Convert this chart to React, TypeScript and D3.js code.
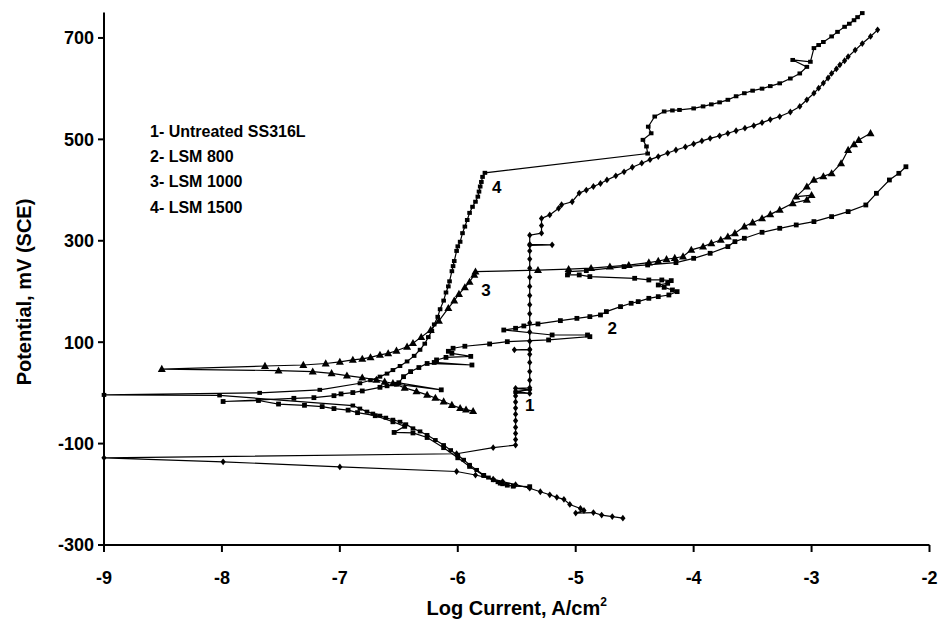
import React from 'react';
import * as d3 from 'd3';

type P = [number, number];

const xTicks = [-9, -8, -7, -6, -5, -4, -3, -2];
const yTicks = [-300, -100, 100, 300, 500, 700];
const legendLines = ['1- Untreated SS316L', '2- LSM 800', '3- LSM 1000', '4- LSM 1500'];

// [log current, potential mV]
const untreated: P[] = [
  [-4.60, -247], [-4.69, -244], [-4.78, -241], [-4.85, -236], [-5.00, -237], [-4.93, -232], [-4.96, -228],
  [-5.05, -220], [-5.10, -210], [-5.16, -206], [-5.22, -201], [-5.30, -195], [-5.39, -188], [-5.51, -181],
  [-5.62, -175], [-5.70, -170], [-5.85, -162], [-6.01, -155], [-7.00, -146], [-7.99, -136], [-9.00, -128],
  [-6.01, -120], [-5.70, -108], [-5.51, -103], [-5.51, -92], [-5.51, -80], [-5.51, -68], [-5.51, -55],
  [-5.51, -42], [-5.51, -30], [-5.51, -18], [-5.51, -6], [-5.51, 0], [-5.39, -1], [-5.51, 3], [-5.39, 6],
  [-5.51, 9], [-5.39, 10], [-5.39, 25], [-5.39, 42], [-5.39, 60], [-5.39, 76], [-5.39, 85], [-5.52, 85],
  [-5.39, 86], [-5.39, 102], [-5.39, 120], [-5.39, 138], [-5.39, 156], [-5.39, 174], [-5.39, 192],
  [-5.39, 210], [-5.39, 228], [-5.39, 246], [-5.39, 264], [-5.39, 280], [-5.39, 291], [-5.20, 292],
  [-5.39, 293], [-5.39, 311], [-5.29, 315], [-5.29, 330], [-5.29, 344], [-5.22, 351], [-5.145, 364],
  [-5.12, 371], [-5.03, 377], [-4.97, 394], [-4.91, 400], [-4.85, 407], [-4.79, 413], [-4.735, 420],
  [-4.66, 428], [-4.59, 436], [-4.52, 445], [-4.44, 453], [-4.37, 460], [-4.30, 466], [-4.22, 473],
  [-4.15, 479], [-4.07, 485], [-4.00, 491], [-3.93, 497], [-3.86, 502], [-3.78, 507], [-3.71, 512],
  [-3.64, 517], [-3.565, 522], [-3.49, 527], [-3.42, 533], [-3.35, 539], [-3.27, 545], [-3.18, 554],
  [-3.10, 565], [-3.04, 578], [-2.98, 591], [-2.94, 601], [-2.90, 611], [-2.86, 621], [-2.83, 630],
  [-2.79, 639], [-2.76, 647], [-2.72, 655], [-2.69, 663], [-2.63, 676], [-2.57, 689], [-2.50, 703],
  [-2.44, 716],
];

const lsm800: P[] = [
  [-5.39, -185], [-5.53, -184], [-5.58, -182], [-5.64, -178], [-5.78, -163], [-5.90, -145], [-6.00, -128],
  [-6.12, -108], [-6.26, -88], [-6.38, -79], [-6.54, -78], [-6.45, -66], [-6.55, -57], [-6.70, -45],
  [-6.85, -39], [-6.93, -34], [-7.05, -31], [-7.15, -27], [-7.30, -24.5], [-7.52, -22], [-7.69, -15],
  [-7.99, -17], [-7.39, -10.7], [-7.22, -9.4], [-7.05, -5.5], [-6.99, -2], [-6.89, 0.6], [-6.81, 3.8],
  [-6.66, 11], [-6.60, 14], [-6.52, 17], [-6.14, 6], [-6.50, 20], [-6.46, 32], [-6.40, 42], [-6.33, 50],
  [-6.26, 58], [-5.88, 55], [-6.20, 60], [-6.18, 65], [-6.10, 70], [-5.89, 72], [-6.05, 78], [-6.08, 82],
  [-6.04, 88], [-5.94, 92], [-5.73, 96.5], [-5.58, 101], [-5.23, 104.4], [-4.88, 110.9], [-4.90, 114.2],
  [-5.20, 114.2], [-5.61, 124], [-5.51, 127.4], [-5.44, 132], [-5.32, 136], [-5.13, 142.5], [-4.99, 147],
  [-4.88, 150.4], [-4.79, 153.7], [-4.74, 160.3], [-4.62, 170.1], [-4.53, 176.7], [-4.47, 180],
  [-4.38, 186.5], [-4.30, 189.8], [-4.21, 193.1], [-4.14, 199.7], [-4.18, 203], [-4.25, 208.2],
  [-4.30, 212.8], [-4.22, 216.1], [-4.19, 221.4], [-4.27, 222.7], [-4.38, 222.7], [-4.50, 226],
  [-4.88, 229.3], [-4.97, 232.6], [-5.07, 232.6], [-5.06, 239.1], [-4.91, 241.1], [-4.59, 249],
  [-4.39, 252.3], [-4.15, 256.9], [-4.00, 265.4], [-3.86, 275.3], [-3.71, 288.5], [-3.65, 298.3],
  [-3.57, 304.9], [-3.42, 316.7], [-3.27, 324.6], [-3.13, 331.2], [-2.98, 337.8], [-2.83, 347.6],
  [-2.69, 357.5], [-2.54, 370.6], [-2.45, 393.6], [-2.34, 419.9], [-2.26, 433], [-2.20, 446],
];

const lsm1000: P[] = [
  [-5.87, -36], [-5.93, -33], [-5.98, -30], [-6.05, -24], [-6.12, -17], [-6.19, -10], [-6.26, -4],
  [-6.35, 3], [-6.45, 10], [-6.55, 19], [-6.62, 22], [-6.69, 25.5], [-6.81, 30], [-6.94, 34],
  [-7.07, 38.6], [-7.23, 42], [-7.52, 44], [-8.51, 47], [-7.635, 53], [-7.31, 55], [-7.12, 58],
  [-7.00, 61], [-6.89, 65], [-6.81, 67], [-6.74, 70], [-6.66, 75], [-6.59, 78], [-6.52, 83], [-6.43, 91],
  [-6.38, 98], [-6.31, 110], [-6.23, 124], [-6.16, 142], [-6.08, 167], [-6.03, 182], [-5.99, 195],
  [-5.94, 208], [-5.90, 219], [-5.86, 233], [-5.85, 239], [-5.32, 242], [-5.06, 244], [-4.87, 246],
  [-4.71, 249], [-4.55, 252], [-4.38, 257], [-4.30, 260], [-4.23, 263.5], [-4.16, 266], [-4.09, 269],
  [-4.02, 282], [-3.92, 288.5], [-3.85, 295], [-3.77, 301.6], [-3.71, 308], [-3.65, 314.7], [-3.57, 328],
  [-3.50, 336], [-3.42, 344], [-3.35, 352], [-3.27, 361], [-3.16, 374], [-3.04, 380.5], [-3.00, 390],
  [-3.13, 387], [-3.04, 406.7], [-2.98, 420], [-2.90, 427], [-2.83, 433], [-2.75, 452.7], [-2.69, 479],
  [-2.64, 490], [-2.60, 498.7], [-2.50, 512],
];

const lsm1500: P[] = [
  [-5.62, -180], [-5.66, -176], [-5.70, -172], [-5.74, -167], [-5.78, -162], [-5.84, -152], [-5.90, -142],
  [-5.95, -132], [-6.00, -123], [-6.06, -113], [-6.12, -103], [-6.19, -93], [-6.26, -83], [-6.32, -76],
  [-6.38, -70], [-6.44, -62], [-6.49, -57], [-6.55, -53], [-6.61, -49], [-6.66, -45], [-6.72, -41],
  [-6.77, -37], [-6.83, -31], [-6.89, -25], [-8.02, -5], [-9.00, -4], [-7.68, 0], [-7.17, 6], [-6.83, 19],
  [-6.74, 25], [-6.66, 32], [-6.60, 38], [-6.55, 45], [-6.49, 53], [-6.43, 62], [-6.37, 73], [-6.32, 85],
  [-6.28, 97], [-6.25, 110], [-6.22, 122], [-6.20, 135], [-6.17, 150], [-6.15, 165], [-6.12, 182],
  [-6.10, 198], [-6.08, 210], [-6.07, 220], [-6.05, 240], [-6.04, 250], [-6.03, 260], [-6.01, 280],
  [-6.00, 289], [-5.98, 298], [-5.96, 315], [-5.94, 328], [-5.92, 341], [-5.90, 355], [-5.875, 367],
  [-5.85, 377], [-5.83, 387], [-5.82, 397], [-5.81, 407], [-5.80, 416], [-5.79, 426], [-5.77, 434],
  [-4.39, 472], [-4.40, 486], [-4.43, 499], [-4.36, 512], [-4.385, 525], [-4.33, 545], [-4.25, 555],
  [-4.18, 557], [-4.12, 558], [-4.00, 561], [-3.92, 565], [-3.85, 569], [-3.78, 573], [-3.71, 578],
  [-3.64, 585], [-3.57, 591], [-3.50, 596], [-3.42, 600], [-3.35, 605], [-3.27, 610.5], [-3.18, 620],
  [-3.10, 630], [-3.04, 643], [-3.16, 656.6], [-3.01, 653], [-2.98, 680], [-2.94, 686], [-2.90, 692],
  [-2.83, 703], [-2.78, 712], [-2.72, 722], [-2.68, 728], [-2.64, 735], [-2.61, 741], [-2.57, 749],
];

const curveLabels = [
  { text: '1', x: -5.39, y: -24 },
  { text: '2', x: -4.69, y: 128 },
  { text: '3', x: -5.76, y: 203 },
  { text: '4', x: -5.67, y: 407 },
];

const W = 938;
const H = 630;
const x = d3.scaleLinear().domain([-9, -2]).range([104, 929.5]);
const y = d3.scaleLinear().domain([-300, 750]).range([545, 12.6]);
const line = d3.line<P>().x(d => x(d[0])).y(d => y(d[1]));
const FONT = 'Liberation Sans, Arial, sans-serif';

type Marker = 'diamond' | 'square' | 'triangle' | 'dash';

function Mark({ kind, p }: { kind: Marker; p: P }) {
  const cx = x(p[0]);
  const cy = y(p[1]);
  if (kind === 'diamond') return <path d={`M${cx},${cy - 3.4}L${cx + 2.6},${cy}L${cx},${cy + 3.4}L${cx - 2.6},${cy}Z`} fill="#000" />;
  if (kind === 'square') return <rect x={cx - 2.4} y={cy - 2.4} width={4.8} height={4.8} fill="#000" />;
  if (kind === 'triangle') return <path d={`M${cx},${cy - 4.2}L${cx + 4},${cy + 2.9}L${cx - 4},${cy + 2.9}Z`} fill="#000" />;
  return <rect x={cx - 2.3} y={cy - 2} width={4.6} height={4} fill="#000" />;
}

function Series({ data, kind }: { data: P[]; kind: Marker }) {
  return (
    <g>
      <path d={line(data) || ''} fill="none" stroke="#000" strokeWidth={1.2} />
      {data.map((p, i) => <Mark key={i} kind={kind} p={p} />)}
    </g>
  );
}

export default function App() {
  const [x0, x1] = x.range();
  const yBottom = y(-300);
  const yTop = y(750);
  return (
    <svg width={W} height={H} style={{ position: 'absolute', left: 0, top: 0, background: '#fff' }} fontFamily={FONT}>
      <rect width={W} height={H} fill="#fff" />
      <Series data={lsm1500} kind="dash" />
      <Series data={lsm1000} kind="triangle" />
      <Series data={lsm800} kind="square" />
      <Series data={untreated} kind="diamond" />
      <line x1={x0} x2={x0} y1={yTop} y2={yBottom} stroke="#000" strokeWidth={2} />
      <line x1={x0} x2={x1} y1={yBottom} y2={yBottom} stroke="#000" strokeWidth={2} />
      {yTicks.map(t => (
        <g key={t}>
          <line x1={x0 - 6} x2={x0} y1={y(t)} y2={y(t)} stroke="#000" strokeWidth={2} />
          <text x={x0 - 10} y={y(t)} dy="0.36em" textAnchor="end" fontSize={18} fontWeight="bold">{t}</text>
        </g>
      ))}
      {xTicks.map(t => (
        <g key={t}>
          <line x1={x(t)} x2={x(t)} y1={yBottom} y2={yBottom + 7} stroke="#000" strokeWidth={2} />
          <text x={x(t)} y={yBottom + 33} dy="0.36em" textAnchor="middle" fontSize={18} fontWeight="bold">{t}</text>
        </g>
      ))}
      <text x={(x0 + x1) / 2} y={615} textAnchor="middle" fontSize={20} fontWeight="bold">
        Log Current, A/cm<tspan fontSize={12} dy={-9}>2</tspan>
      </text>
      <text transform={`translate(31,292) rotate(-90)`} textAnchor="middle" fontSize={20} fontWeight="bold">
        Potential, mV (SCE)
      </text>
      {legendLines.map((s, i) => (
        <text key={s} x={150} y={137 + i * 25.2} fontSize={16} fontWeight="bold">{s}</text>
      ))}
      {curveLabels.map(l => (
        <text key={l.text} x={x(l.x)} y={y(l.y)} dy="0.36em" textAnchor="middle" fontSize={17} fontWeight="bold">{l.text}</text>
      ))}
    </svg>
  );
}
